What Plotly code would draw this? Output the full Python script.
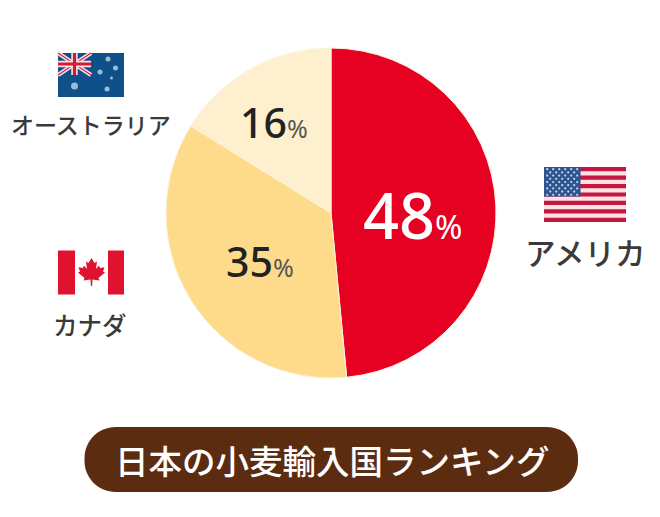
import plotly.graph_objects as go

countries = ["アメリカ", "カナダ", "オーストラリア"]
shares = [48, 35, 16]
slice_colors = ["#e60021", "#fddb8b", "#fef0cf"]
title_text = "日本の小麦輸入国ランキング"

W, H = 660, 517
PIE_L, PIE_R, PIE_T, PIE_B = 166, 496, 48, 378
FONT = "Noto Sans CJK JP"
INK = "#3a3a3a"

fig = go.Figure()
fig.add_trace(go.Pie(
    labels=countries, values=shares, sort=False, direction="clockwise", rotation=0,
    marker=dict(colors=slice_colors, line=dict(color="#fdf3dc", width=1)),
    textinfo="none", hoverinfo="label+percent", showlegend=False,
    domain=dict(x=[PIE_L / W, PIE_R / W], y=[1 - PIE_B / H, 1 - PIE_T / H]),
))

shapes = []
def rect(x0, y0, x1, y1, color):
    shapes.append(dict(type="rect", xref="x", yref="y", x0=x0, y0=y0, x1=x1, y1=y1,
                       fillcolor=color, line_width=0, layer="below"))
def line(x0, y0, x1, y1, color, w):
    shapes.append(dict(type="line", xref="x", yref="y", x0=x0, y0=y0, x1=x1, y1=y1,
                       line=dict(color=color, width=w), layer="below"))

# title pill
L, R, T, B, r = 84.5, 578, 427, 492, 31
k = r * 0.45
shapes.append(dict(type="path", xref="x", yref="y", fillcolor="#5c2c10", line_width=0, layer="below",
    path=(f"M{L+r},{T} L{R-r},{T} C{R-k},{T} {R},{T+k} {R},{T+r} L{R},{B-r} C{R},{B-k} {R-k},{B} {R-r},{B} "
          f"L{L+r},{B} C{L+k},{B} {L},{B-k} {L},{B-r} L{L},{T+r} C{L},{T+k} {L+k},{T} {L+r},{T} Z")))

# USA flag
ux0, ux1, uy0, uy1 = 544, 626, 167, 222
rect(ux0, uy0, ux1, uy1, "#fbe3e4")
sh = (uy1 - uy0) / 13
for i in range(0, 13, 2):
    rect(ux0, uy0 + i * sh, ux1, uy0 + (i + 1) * sh, "#c4163f")
rect(ux0, uy0, 580.5, uy0 + 7 * sh, "#2f5590")

# Australia flag
ax0, ax1, ay0, ay1 = 58, 124, 53, 97
rect(ax0, ay0, ax1, ay1, "#0f5089")
jx, jy = 91, 75
line(ax0, ay0, jx, jy, "#f4e6ec", 4)
line(ax0, jy, jx, ay0, "#f4e6ec", 4)
line(ax0, ay0, jx, jy, "#d8234a", 1.3)
line(ax0, jy, jx, ay0, "#d8234a", 1.3)
rect(ax0, (ay0 + jy) / 2 - 3.2, jx, (ay0 + jy) / 2 + 3.2, "#f4e6ec")
rect((ax0 + jx) / 2 - 3.2, ay0, (ax0 + jx) / 2 + 3.2, jy, "#f4e6ec")
rect(ax0, (ay0 + jy) / 2 - 1.6, jx, (ay0 + jy) / 2 + 1.6, "#d8182f")
rect((ax0 + jx) / 2 - 1.6, ay0, (ax0 + jx) / 2 + 1.6, jy, "#d8182f")

# Canada flag
rect(58, 250.5, 75, 294.5, "#df1230")
rect(108, 250.5, 124, 294.5, "#df1230")
half = [(0,-13),(3,-8),(5.5,-9.5),(4.5,-2),(7.5,-5.5),(8.5,-3),(13,-3.8),(11.5,0.5),(13.5,1.5),
        (7,7),(8,9.5),(1,8.5),(0.6,15)]
pts = half + [(-a, b) for a, b in reversed(half[1:])]
cx, cy = 91.5, 271
shapes.append(dict(type="path", xref="x", yref="y", fillcolor="#df1230", line_width=0, layer="below",
    path="M" + " L".join(f"{cx+a},{cy+b}" for a, b in pts) + " Z"))

# stars
usx, usy = [], []
for row in range(9):
    n = 6 if row % 2 == 0 else 5
    off = 0 if row % 2 == 0 else 0.5
    for c in range(n):
        usx.append(ux0 + 3.2 + (c + off) * 6)
        usy.append(uy0 + 2.2 + row * 3.2)
fig.add_trace(go.Scatter(x=usx, y=usy, mode="markers", hoverinfo="skip", showlegend=False,
                         marker=dict(size=2.2, color="#c9d6ea", line_width=0)))
fig.add_trace(go.Scatter(x=[74.5, 108, 100, 115.5, 111.5, 107], y=[86, 59, 72, 68, 78, 89],
                         mode="markers", hoverinfo="skip", showlegend=False,
                         marker=dict(size=[7, 5, 5, 5, 3, 5], color="#d6ebf7", line_width=0)))

def note(x, y, text, size, color=INK, font=FONT, weight=500):
    return dict(x=x, y=y, xref="x", yref="y", text=text, showarrow=False, xanchor="center",
                yanchor="middle", font=dict(size=size, color=color, family=font, weight=weight))

def pct(value, small, color):
    return f"{value}<span style='font-size:{small}px;font-weight:400;fill:{color}'>%</span>"

annotations = [
    note(413, 214, pct(shares[0], 33, "#ffffff"), 63, "#ffffff", "Noto Sans"),
    note(260, 261, pct(shares[1], 25, "#555555"), 41, "#222222", "Noto Sans"),
    note(274, 122, pct(shares[2], 25, "#555555"), 41, "#222222", "Noto Sans"),
    note(585, 252, countries[0], 30.5),
    note(90, 324, countries[1], 24.5),
    note(91, 124, countries[2], 23),
    note(332, 459, title_text, 33.5, "#ffffff", FONT, 500),
]

fig.update_layout(
    width=W, height=H, autosize=False, margin=dict(l=0, r=0, t=0, b=0),
    paper_bgcolor="#ffffff", plot_bgcolor="rgba(0,0,0,0)",
    xaxis=dict(range=[0, W], visible=False, fixedrange=True),
    yaxis=dict(range=[H, 0], visible=False, fixedrange=True),
    shapes=shapes, annotations=annotations,
)
fig.write_html("out.html", config=dict(displayModeBar=False),
               post_script="document.body.style.margin='0';")
